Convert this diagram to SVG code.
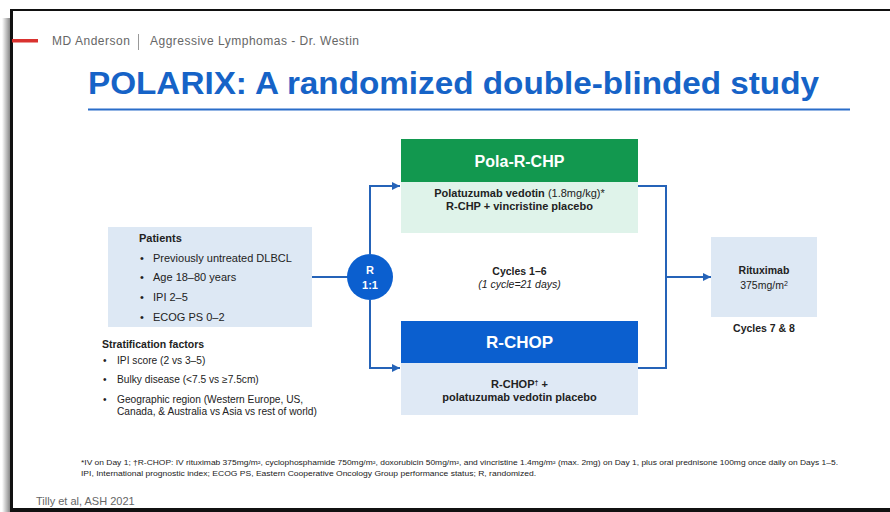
<svg xmlns="http://www.w3.org/2000/svg" width="890" height="512" viewBox="0 0 890 512">
<style>
text{font-family:"Liberation Sans",Arial,sans-serif;}
.b{font-weight:bold;}
.t{font-size:11px;fill:#222;}
.c{text-anchor:middle;}
.fn{font-size:6.6px;fill:#222;}
.con{fill:none;stroke:#2563b8;stroke-width:2;}
.hd{font-size:17px;fill:#fff;font-weight:bold;text-anchor:middle;}
.bx{font-size:11px;fill:#222;text-anchor:middle;}
</style>
<defs>
<marker id="ah" viewBox="0 0 10 10" refX="10" refY="5" markerWidth="4" markerHeight="4" orient="auto" markerUnits="strokeWidth">
<path d="M0,0 L10,5 L0,10 z" fill="#2563b8"/>
</marker>
<linearGradient id="sh" x1="0" x2="1" y1="0" y2="0">
<stop offset="0" stop-color="#fff"/>
<stop offset="1" stop-color="#888"/>
</linearGradient>
</defs>
<rect width="890" height="512" fill="#fff"/>
<!-- frame -->
<rect x="2" y="18" width="8" height="494" fill="url(#sh)"/>
<rect x="10" y="9" width="880" height="2" fill="#111"/>
<rect x="10" y="9" width="3" height="503" fill="#111"/>
<rect x="10" y="508" width="880" height="4" fill="#111"/>
<!-- header -->
<rect x="12" y="39" width="26" height="3.5" fill="#d9322f"/>
<text x="52" y="45" style="font-size:12px;fill:#666" textLength="78">MD Anderson</text>
<rect x="138" y="34" width="1" height="16" fill="#999"/>
<text x="150" y="45" style="font-size:12px;fill:#666" textLength="209">Aggressive Lymphomas - Dr. Westin</text>
<text x="88" y="94" class="b" style="font-size:30.5px;fill:#1663c7" textLength="731" lengthAdjust="spacingAndGlyphs">POLARIX: A randomized double-blinded study</text>
<rect x="88" y="108.5" width="762" height="2" fill="#2a6dc9"/>

<!-- connectors -->
<g id="connectors">
<line class="con" x1="312" y1="277" x2="348" y2="277"/>
<polyline class="con" points="370,254 370,186 400,186" marker-end="url(#ah)"/>
<polyline class="con" points="370,300 370,368 400,368" marker-end="url(#ah)"/>
<polyline class="con" points="638,186 666,186 666,368 638,368"/>
<line class="con" x1="666" y1="277" x2="711" y2="277" marker-end="url(#ah)"/>
</g>

<g id="patients">
<rect x="108" y="227" width="204" height="100" fill="#dde8f4"/>
<text x="139" y="242" class="t b">Patients</text>
<text x="140" y="262" class="t">•</text><text x="153" y="262" class="t">Previously untreated DLBCL</text>
<text x="140" y="281" class="t">•</text><text x="153" y="281" class="t">Age 18–80 years</text>
<text x="140" y="301" class="t">•</text><text x="153" y="301" class="t">IPI 2–5</text>
<text x="140" y="321" class="t">•</text><text x="153" y="321" class="t">ECOG PS 0–2</text>
</g>

<g id="stratification">
<text x="102" y="348" class="t b" style="font-size:10.5px">Stratification factors</text>
<text x="103" y="364" class="t" style="font-size:10.2px">•</text><text x="117" y="364" class="t" style="font-size:10.2px">IPI score (2 vs 3–5)</text>
<text x="103" y="383" class="t" style="font-size:10.2px">•</text><text x="117" y="383" class="t" style="font-size:10.2px">Bulky disease (&lt;7.5 vs ≥7.5cm)</text>
<text x="103" y="403" class="t" style="font-size:10.2px">•</text><text x="117" y="403" class="t" style="font-size:10.2px">Geographic region (Western Europe, US,</text>
<text x="117" y="415" class="t" style="font-size:10.2px">Canada, &amp; Australia vs Asia vs rest of world)</text>
</g>

<g id="randomize">
<circle cx="370" cy="277" r="23" fill="#0b5fcf"/>
<text x="370" y="274" class="b c" style="font-size:11px;fill:#fff">R</text>
<text x="370" y="289" class="b c" style="font-size:11px;fill:#fff">1:1</text>
</g>

<g id="pola">
<rect x="401" y="139" width="237" height="43" fill="#12984f"/>
<rect x="401" y="182" width="237" height="51" fill="#dff3ea"/>
<text x="519.5" y="167" class="hd" style="font-size:16px">Pola-R-CHP</text>
<text x="519.5" y="197" class="bx"><tspan class="b">Polatuzumab vedotin</tspan> (1.8mg/kg)*</text>
<text x="519.5" y="210" class="bx b">R-CHP + vincristine placebo</text>
</g>

<g id="cycles">
<text x="519.5" y="275" class="bx b" style="font-size:10.5px">Cycles 1–6</text>
<text x="519.5" y="288" class="bx" style="font-size:10.5px;font-style:italic">(1 cycle=21 days)</text>
</g>

<g id="rchop">
<rect x="401" y="321" width="237" height="42" fill="#0b5fcf"/>
<rect x="401" y="363" width="237" height="52" fill="#dfe9f5"/>
<text x="519.5" y="348" class="hd">R-CHOP</text>
<text x="519.5" y="388" class="bx b">R-CHOP<tspan style="font-size:7px" dy="-3">†</tspan><tspan dy="3"> +</tspan></text>
<text x="519.5" y="401" class="bx b">polatuzumab vedotin placebo</text>
</g>

<g id="rituximab">
<rect x="711" y="237" width="106" height="80" fill="#dde8f4"/>
<text x="764" y="274" class="bx b" style="font-size:10.5px">Rituximab</text>
<text x="764" y="289" class="bx" style="font-size:10.5px">375mg/m<tspan style="font-size:7px" dy="-3">2</tspan></text>
<text x="764" y="332" class="bx b" style="font-size:10.5px">Cycles 7 &amp; 8</text>
</g>

<!-- footnotes -->
<text x="81" y="465" class="fn" textLength="757" lengthAdjust="spacingAndGlyphs">*IV on Day 1; †R-CHOP: IV rituximab 375mg/m², cyclophosphamide 750mg/m², doxorubicin 50mg/m², and vincristine 1.4mg/m² (max. 2mg) on Day 1, plus oral prednisone 100mg once daily on Days 1–5.</text>
<text x="81" y="476" class="fn" textLength="455" lengthAdjust="spacingAndGlyphs">IPI, International prognostic index; ECOG PS, Eastern Cooperative Oncology Group performance status; R, randomized.</text>
<text x="36" y="505" style="font-size:11px;fill:#666">Tilly et al, ASH 2021</text>
</svg>
